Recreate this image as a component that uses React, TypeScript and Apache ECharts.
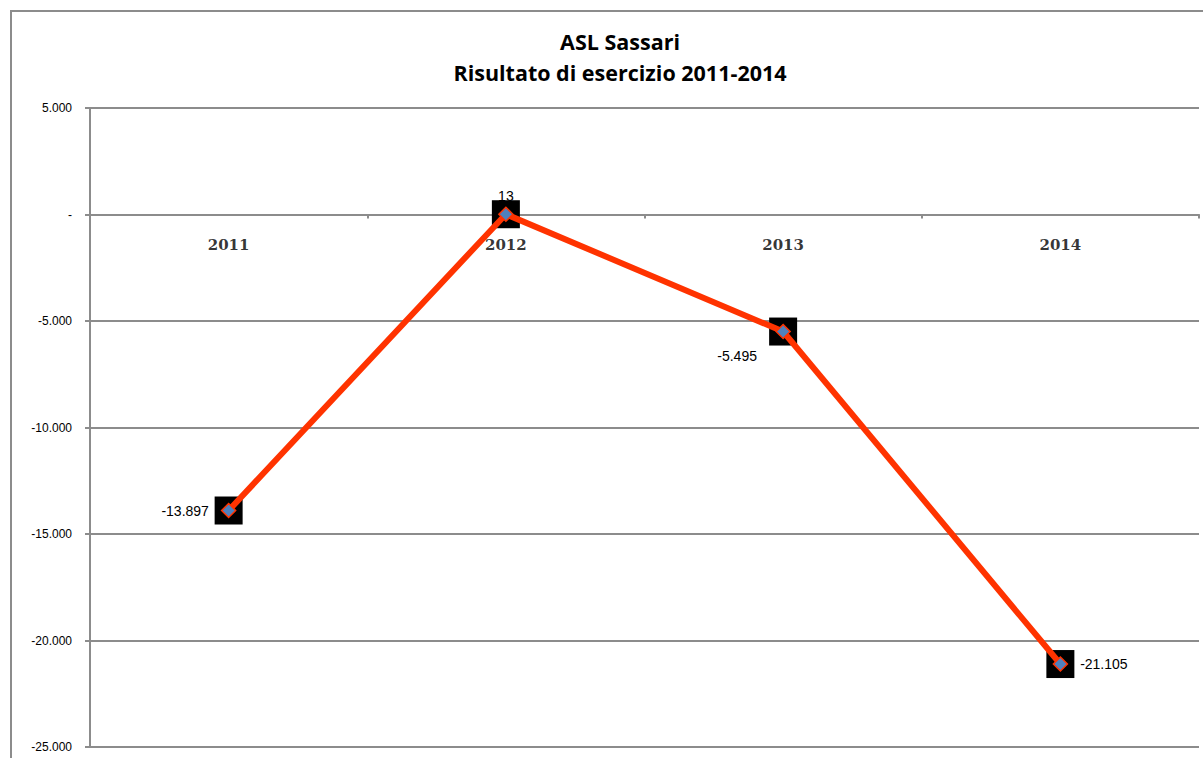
import React, { useEffect, useRef } from "react";
import * as echarts from "echarts";

const years = ["2011", "2012", "2013", "2014"];
const results = [-13897, 13, -5495, -21105];
const labelTexts = ["-13.897", "13", "-5.495", "-21.105"];

const fmt = (v: number) => {
  if (v === 0) return "-";
  const s = Math.abs(v).toString().replace(/\B(?=(\d{3})+(?!\d))/g, ".");
  return (v < 0 ? "-" : "") + s;
};

export default function App() {
  const ref = useRef<HTMLDivElement>(null);
  useEffect(() => {
    const chart = echarts.init(ref.current!, null, { renderer: "svg" });
    const labelCfg: any[] = [
      { position: "left", distance: 12 },
      { position: "top", distance: 3 },
      { position: "bottom", distance: 10, offset: [-46, 0] },
      { position: "right", distance: 12 },
    ];
    chart.setOption({
      animation: false,
      backgroundColor: "#fff",
      title: {
        text: "ASL Sassari\nRisultato di esercizio 2011-2014",
        left: 615,
        textAlign: "center",
        top: 21,
        textStyle: {
          fontFamily: "Open Sans",
          fontWeight: "bold",
          fontSize: 21.5,
          lineHeight: 31,
          color: "#000",
        },
      },
      graphic: [
        {
          type: "rect",
          shape: { x: 11, y: 11, width: 1300, height: 900 },
          style: { fill: "none", stroke: "#8c8c8c", lineWidth: 2 },
          silent: true,
          z: -1,
        },
      ],
      grid: {
        left: 90,
        top: 108,
        right: 4,
        bottom: 11,
        containLabel: false,
        outerBoundsMode: "none",
      },
      xAxis: {
        type: "category",
        data: years,
        boundaryGap: true,
        axisLine: { onZero: true, lineStyle: { color: "#8c8c8c", width: 2 } },
        axisTick: { show: true, length: 4, lineStyle: { color: "#8c8c8c", width: 2 } },
        axisLabel: { show: false },
        splitLine: { show: false },
      },
      yAxis: {
        type: "value",
        min: -25000,
        max: 5000,
        interval: 5000,
        axisLine: { show: true, lineStyle: { color: "#8c8c8c", width: 2 } },
        axisTick: { show: true, length: 5, lineStyle: { color: "#8c8c8c", width: 2 } },
        axisLabel: {
          formatter: (v: number) => fmt(v),
          fontFamily: "Liberation Sans",
          fontSize: 12,
          color: "#000",
          margin: 18,
        },
        splitLine: { show: true, lineStyle: { color: "#8c8c8c", width: 2 } },
      },
      series: [
        {
          type: "scatter",
          data: years.map((y) => [y, 0]),
          symbolSize: 1,
          itemStyle: { color: "rgba(0,0,0,0)" },
          silent: true,
          z: 0,
          label: {
            show: true,
            position: "bottom",
            distance: 22,
            formatter: (p: any) => String(p.value[0]),
            fontFamily: "DejaVu Serif",
            fontWeight: "bold",
            fontSize: 15,
            color: "#000",
          },
        },
        {
          type: "scatter",
          data: results,
          symbol: "rect",
          symbolSize: 28,
          itemStyle: { color: "#000", opacity: 1 },
          z: 1,
          silent: true,
        },
        {
          type: "line",
          data: results.map((v, i) => ({
            value: v,
            label: {
              show: true,
              formatter: () => labelTexts[i],
              fontFamily: "Liberation Sans",
              fontSize: 14,
              color: "#000",
              ...labelCfg[i],
            },
          })),
          symbol: "diamond",
          symbolSize: 14,
          showAllSymbol: true,
          lineStyle: { color: "#ff3300", width: 6 },
          itemStyle: { color: "#4f81bd", borderColor: "#ff3300", borderWidth: 1.5 },
          z: 2,
        },
      ],
    });
    return () => chart.dispose();
  }, []);
  return (
    <div
      ref={ref}
      style={{ position: "absolute", left: 0, top: 0, width: 1203, height: 758 }}
    />
  );
}
